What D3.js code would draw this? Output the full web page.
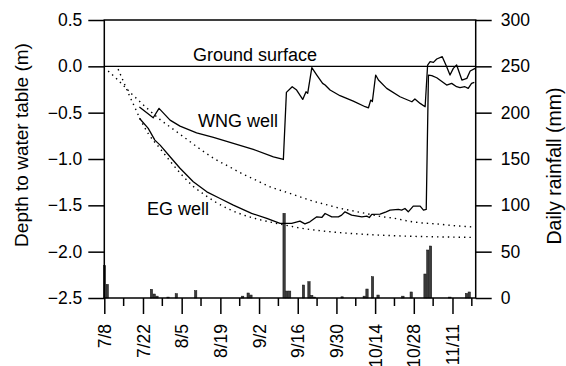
<!DOCTYPE html>
<html>
<head>
<meta charset="utf-8">
<script src="https://cdn.jsdelivr.net/npm/d3@7"></script>
<style>
    body { margin: 0; background: #fff; }
    svg text { font-family: "Liberation Sans", Arial, Helvetica, sans-serif; fill: #000; }
</style>
</head>
<body>
<div id="chart"></div>
<script>
// days counted from 7/8
var tickDays = [0, 14, 28, 42, 56, 70, 84, 98, 112, 126];
var tickLabels = ['7/8', '7/22', '8/5', '8/19', '9/2', '9/16', '9/30', '10/14', '10/28', '11/11'];
var minorDays = [7, 21, 35, 49, 63, 77, 91, 105, 119, 133];
var depthTicks = [-2.5, -2.0, -1.5, -1.0, -0.5, 0.0, 0.5];
var rainTicks = [0, 50, 100, 150, 200, 250, 300];

// WNG well depth (m)
var wngDays = [12.7, 17.7, 19.8, 23.8, 27.4, 33.4, 39.5, 46.7, 53.9, 61.2, 64.8, 65.9, 68.0, 69.6, 71.8, 73.0, 73.6, 75.1,
    76.9, 79.0, 79.9, 81.7, 85.3, 90.1, 94.4, 95.6, 96.4, 97.0, 98.2, 99.2, 102.2, 107.0, 111.3, 112.4, 114.3, 116.1,
    117.0, 117.9, 119.1, 120.3, 122.3, 123.9, 125.1, 126.3, 127.5, 129.4, 131.2, 132.4, 134.2];
var wngDepth = [-0.44, -0.555, -0.454, -0.58, -0.645, -0.717, -0.767, -0.832, -0.896, -0.976, -1.005, -0.281, -0.22, -0.256, -0.357, -0.274, -0.292, -0.015,
    -0.094, -0.184, -0.202, -0.256, -0.317, -0.375, -0.436, -0.447, -0.364, -0.38, -0.094, -0.148, -0.238, -0.328, -0.382, -0.353, -0.40, -0.436,
    0.014, 0.05, 0.043, 0.079, 0.104, -0.004, -0.094, -0.022, 0.014, -0.148, -0.13, -0.05, -0.022];

// EG well depth (m)
var egDays = [12.7, 15.9, 18.3, 20.2, 23.8, 27.4, 32.2, 37.1, 41.9, 46.7, 53.3, 58.8, 63.6, 67.8, 70.8, 72.6, 74.4, 76.9,
    78.7, 79.9, 82.3, 84.7, 85.9, 87.1, 89.5, 93.2, 95.0, 95.9, 96.8, 99.8, 102.0, 103.4, 106.4, 107.6, 108.8, 110.0,
    111.8, 114.3, 115.5, 116.5, 117.3, 118.5, 120.3, 123.9, 125.7, 127.5, 128.7, 130.5, 131.7, 132.9, 133.9];
var egDepth = [-0.56, -0.67, -0.796, -0.85, -0.976, -1.10, -1.246, -1.354, -1.426, -1.498, -1.587, -1.641, -1.695, -1.695, -1.67, -1.70, -1.678, -1.624,
    -1.631, -1.588, -1.624, -1.624, -1.606, -1.57, -1.606, -1.624, -1.617, -1.631, -1.598, -1.595, -1.57, -1.552, -1.544, -1.552, -1.534, -1.57,
    -1.509, -1.509, -1.552, -1.544, -0.094, -0.10, -0.123, -0.202, -0.184, -0.22, -0.23, -0.22, -0.238, -0.184, -0.173];

// dotted recession curves
var wngFitDays = [1.4, 5, 10, 15, 20, 25, 30, 35, 40, 45, 50, 55, 60, 65, 70, 75, 80, 85, 90, 95, 100, 105, 110, 115, 120, 125, 134];
var wngFitDepth = [-0.05, -0.15, -0.30, -0.44, -0.57, -0.68, -0.79, -0.90, -1.00, -1.08, -1.16, -1.23, -1.30, -1.35, -1.40, -1.45, -1.49, -1.53, -1.56, -1.59, -1.62, -1.64, -1.67, -1.69, -1.70, -1.715, -1.735];
var egFitDays = [5, 7, 9, 11, 13, 16, 20, 24, 28, 32, 36, 40, 45, 50, 55, 60, 65, 70, 80, 90, 100, 110, 120, 134];
var egFitDepth = [-0.03, -0.17, -0.31, -0.44, -0.57, -0.73, -0.88, -1.03, -1.17, -1.29, -1.38, -1.46, -1.54, -1.60, -1.645, -1.68, -1.71, -1.74, -1.78, -1.805, -1.822, -1.833, -1.840, -1.846];

// daily rainfall (mm)
var rainDays = [0, 1, 17, 18, 19, 23, 26, 33, 50, 52, 53, 65, 66, 67, 72, 74, 75, 76, 86, 94, 95, 97, 99, 108, 111, 116, 117, 118, 125, 131, 132];
var rainMm = [35, 14.7, 9.4, 4.3, 2, 1, 4.7, 7.9, 2, 5.4, 3.2, 91.4, 7.5, 7.5, 14, 17.6, 2.9, 1, 1.3, 2, 9.7, 23, 3.2, 2, 6.5, 25.9, 51.8, 56.1, 1, 5, 6.5];

var width = 566, height = 366;
var margin = {left: 104.3, right: 90.3, top: 20, bottom: 68};

var svg = d3.select('#chart').append('svg')
    .attr('width', width)
    .attr('height', height);

var x = d3.scaleLinear().domain([0, 134.4]).range([margin.left, width - margin.right]);
var y = d3.scaleLinear().domain([-2.5, 0.5]).range([height - margin.bottom, margin.top]);
var yR = d3.scaleLinear().domain([0, 300]).range([height - margin.bottom, margin.top]);

function zip(a, b) {
    return a.map(function (d, i) { return [d, b[i]]; });
}

// rainfall bars
svg.append('g').selectAll('rect')
    .data(zip(rainDays, rainMm))
    .enter()
    .append('rect')
    .attr('x', function (d) { return x(d[0]) - 1; })
    .attr('width', x(1) - x(0) - 0.4)
    .attr('y', function (d) { return yR(d[1]); })
    .attr('height', function (d) { return yR(0) - yR(d[1]); })
    .style('fill', '#3c3c3c')
    .style('stroke', '#111')
    .style('stroke-width', 0.5);

var line = d3.line()
    .x(function (d) { return x(d[0]); })
    .y(function (d) { return y(d[1]); });

// ground surface
svg.append('line')
    .attr('x1', x.range()[0]).attr('x2', x.range()[1])
    .attr('y1', y(0)).attr('y2', y(0))
    .style('stroke', '#000').style('stroke-width', 1.2);

[[wngFitDays, wngFitDepth], [egFitDays, egFitDepth]].forEach(function (s) {
    svg.append('path')
        .datum(zip(s[0], s[1]))
        .attr('d', line.curve(d3.curveMonotoneX))
        .style('fill', 'none')
        .style('stroke', '#000')
        .style('stroke-width', 1.4)
        .style('stroke-dasharray', '1.4,4');
});

line.curve(d3.curveLinear);
[[wngDays, wngDepth], [egDays, egDepth]].forEach(function (s) {
    svg.append('path')
        .datum(zip(s[0], s[1]))
        .attr('d', line)
        .style('fill', 'none')
        .style('stroke', '#000')
        .style('stroke-width', 1.3)
        .style('stroke-linejoin', 'round');
});

// frame
svg.append('rect')
    .attr('x', x.range()[0]).attr('y', margin.top)
    .attr('width', x.range()[1] - x.range()[0])
    .attr('height', height - margin.bottom - margin.top)
    .style('fill', 'none').style('stroke', '#000').style('stroke-width', 1.5);

// left axis
var yAxis = svg.append('g')
    .attr('transform', 'translate(' + margin.left + ',0)')
    .call(d3.axisLeft(y).tickValues(depthTicks).tickSize(16).tickPadding(6).tickFormat(d3.format('.1f')));
yAxis.select('.domain').remove();
yAxis.selectAll('line').style('stroke-width', 1.5);
yAxis.selectAll('text').style('font-size', '17.5px').style('font-family', null);

// right axis
var rAxis = svg.append('g')
    .attr('transform', 'translate(' + (width - margin.right) + ',0)')
    .call(d3.axisRight(yR).tickValues(rainTicks).tickSize(16).tickPadding(9));
rAxis.select('.domain').remove();
rAxis.selectAll('line').style('stroke-width', 1.5);
rAxis.selectAll('text').style('font-size', '17.5px').style('font-family', null);

// bottom axis
var xAxis = svg.append('g')
    .attr('transform', 'translate(0,' + (height - margin.bottom) + ')')
    .call(d3.axisBottom(x).tickValues(tickDays).tickSize(16).tickFormat(function (d, i) { return tickLabels[i]; }));
xAxis.select('.domain').remove();
xAxis.selectAll('line').style('stroke-width', 1.5);
xAxis.selectAll('text')
    .style('font-size', '17.5px')
    .style('font-family', null)
    .style('text-anchor', 'end')
    .attr('transform', 'rotate(-90)')
    .attr('x', -26)
    .attr('y', 0)
    .attr('dy', '0.35em');
svg.append('g')
    .attr('transform', 'translate(0,' + (height - margin.bottom) + ')')
    .selectAll('line')
    .data(minorDays)
    .enter()
    .append('line')
    .attr('x1', function (d) { return x(d); })
    .attr('x2', function (d) { return x(d); })
    .attr('y1', 0).attr('y2', 8)
    .style('stroke', '#000').style('stroke-width', 1.5);

// titles
svg.append('text')
    .attr('transform', 'translate(28,145) rotate(-90)')
    .style('text-anchor', 'middle')
    .style('font-size', '19px')
    .text('Depth to water table (m)');
svg.append('text')
    .attr('transform', 'translate(561,166) rotate(-90)')
    .style('text-anchor', 'middle')
    .style('font-size', '19.5px')
    .text('Daily rainfall (mm)');

// series labels
svg.append('text').attr('x', 193).attr('y', 61).style('font-size', '18px').text('Ground surface');
svg.append('text').attr('x', 198).attr('y', 127).style('font-size', '18px').text('WNG well');
svg.append('text').attr('x', 147).attr('y', 215).style('font-size', '18px').text('EG well');
</script>
</body>
</html>
